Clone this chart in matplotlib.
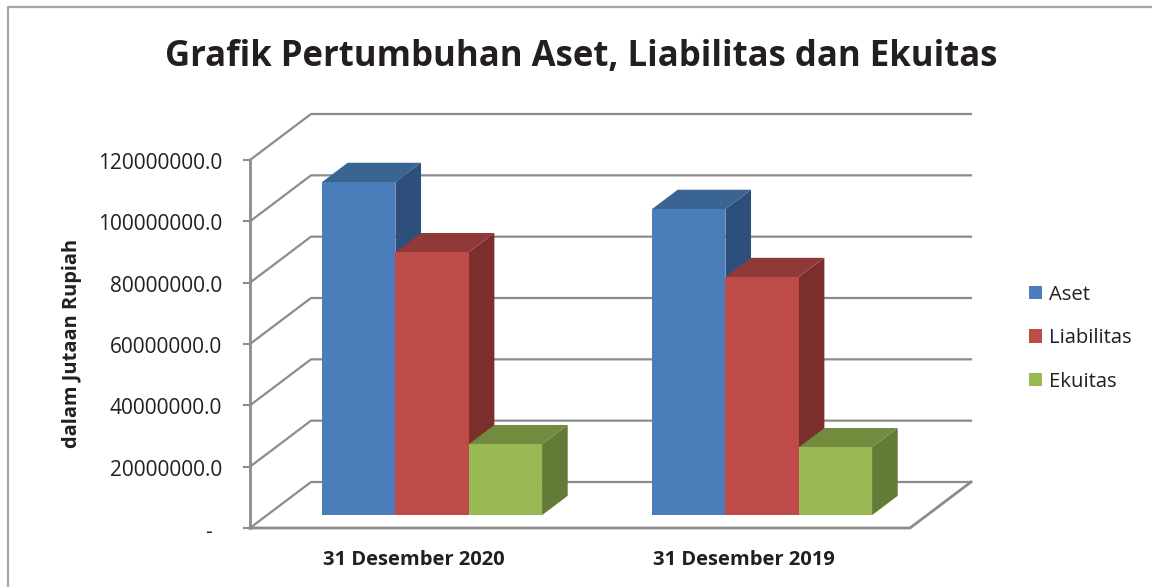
""" Grafik pertumbuhan aset, liabilitas dan ekuitas (pseudo 3D bars). """
import matplotlib.pyplot as plt
from matplotlib.patches import Patch, Polygon

plt.rcParams['font.family'] = ['Open Sans', 'DejaVu Sans']

TITLE = "Grafik Pertumbuhan Aset, Liabilitas dan Ekuitas"
Y_LABEL = "dalam Jutaan Rupiah"

CATEGORIES = ["31 Desember 2020", "31 Desember 2019"]
SERIES = ["Aset", "Liabilitas", "Ekuitas"]
ASET = [108600000, 99800000]
LIABILITAS = [85700000, 77600000]
EKUITAS = [23100000, 22100000]

Y_TICKS = [0, 20000000, 40000000, 60000000, 80000000, 100000000, 120000000]
Y_TICK_LABELS = ["-", "20000000.0", "40000000.0", "60000000.0",
                 "80000000.0", "100000000.0", "120000000.0"]

# (front, top, side)
COLORS = {
    "Aset": ("#4A7EBB", "#3A6491", "#2E4F7B"),
    "Liabilitas": ("#BE4B48", "#8F3A38", "#7C2E2D"),
    "Ekuitas": ("#98B954", "#728B3F", "#647A37"),
}

GRID = "#8C8C8C"
TEXT = "#231F20"

# projection of the box, in pixels of the figure
X0, Y0 = 250, 528
BOX_W, BOX_H = 660, 368
DEPTH_X, DEPTH_Y = 61, 46
Y_MAX = 120000000
BAR_DEPTH = (0.28, 0.70)
GAP = 1.5


def project(pos, value, depth):
    """ pos in categories, value in data units, depth from 0 to 1. """
    x = X0 + pos / len(CATEGORIES) * BOX_W + depth * DEPTH_X
    y = Y0 - value / Y_MAX * BOX_H - depth * DEPTH_Y
    return x, y


def draw_bar(ax, left, right, value, colors):
    """ Draw the side, top and front faces of one bar. """
    d0, d1 = BAR_DEPTH
    front, top, side = colors
    ax.add_patch(Polygon([project(right, 0, d0), project(right, 0, d1),
                          project(right, value, d1), project(right, value, d0)],
                         fc=side, ec="none", zorder=3))
    ax.add_patch(Polygon([project(left, value, d0), project(left, value, d1),
                          project(right, value, d1), project(right, value, d0)],
                         fc=top, ec="none", zorder=3))
    ax.add_patch(Polygon([project(left, 0, d0), project(right, 0, d0),
                          project(right, value, d0), project(left, value, d0)],
                         fc=front, ec="none", zorder=3))


def main() -> None:
    """App main's function. """

    fig = plt.figure(figsize=(11.52, 5.87), dpi=100)
    ax = fig.add_axes([0, 0, 1, 1])
    ax.set_xlim(0, 1152)
    ax.set_ylim(587, 0)
    ax.axis("off")

    # outer frame, cut by the page on the right and at the bottom
    ax.plot([8, 8, 1152], [587, 7, 7], color="#A6A6A6", lw=1.6)

    n_cat = len(CATEGORIES)
    for tick, label in zip(Y_TICKS, Y_TICK_LABELS):
        xa, ya = project(0, tick, 0)
        xb, yb = project(0, tick, 1)
        xc, yc = project(n_cat, tick, 1)
        ax.plot([xa - 6, xa], [ya, ya], color=GRID, lw=1.5, zorder=1)
        ax.plot([xa, xb, xc], [ya, yb, yc], color=GRID, lw=1.6, zorder=1)
        # the zero label sits further left and lower
        lx, ly = (212, ya + 4.5) if tick == 0 else (222, ya + 3.5)
        ax.text(lx, ly, label, ha="right", va="center", fontsize=15, color=TEXT)

    # axis, floor edges
    ax.plot(*zip(project(0, 0, 0), project(0, Y_MAX, 0)), color=GRID, lw=2, zorder=2)
    ax.plot(*zip(project(0, 0, 0), project(n_cat, 0, 0), project(n_cat, 0, 1)),
            color=GRID, lw=2, zorder=2)

    values = [ASET, LIABILITAS, EKUITAS]
    bar_w = 1 / (len(SERIES) + GAP)
    for i, cat in enumerate(CATEGORIES):
        start = i + GAP / 2 * bar_w
        for j, name in enumerate(SERIES):
            draw_bar(ax, start + j * bar_w, start + (j + 1) * bar_w,
                     values[j][i], COLORS[name])
        ax.text(project(i + 0.5, 0, 0)[0] - 1.5, 560, cat, ha="center", va="center",
                fontsize=14.5, fontweight="bold", color=TEXT)

    ax.text(581, 57, TITLE, ha="center", va="center", fontsize=25,
            fontweight="bold", color=TEXT)
    ax.text(72, 343, Y_LABEL, ha="center", va="center", rotation=90,
            fontsize=14.4, fontweight="bold", color=TEXT)

    handles = [Patch(fc=COLORS[name][0], ec="none", label=name) for name in SERIES]
    fig.legend(handles=handles, loc="center left", bbox_to_anchor=(0.8847, 0.424),
               frameon=False, fontsize=14.6, labelcolor=TEXT, handlelength=0.65,
               handleheight=0.65, handletextpad=0.3, labelspacing=1.16, borderpad=0)

    fig.savefig("out.png", dpi=100)
    plt.close(fig)


if __name__ == "__main__":
    main()
